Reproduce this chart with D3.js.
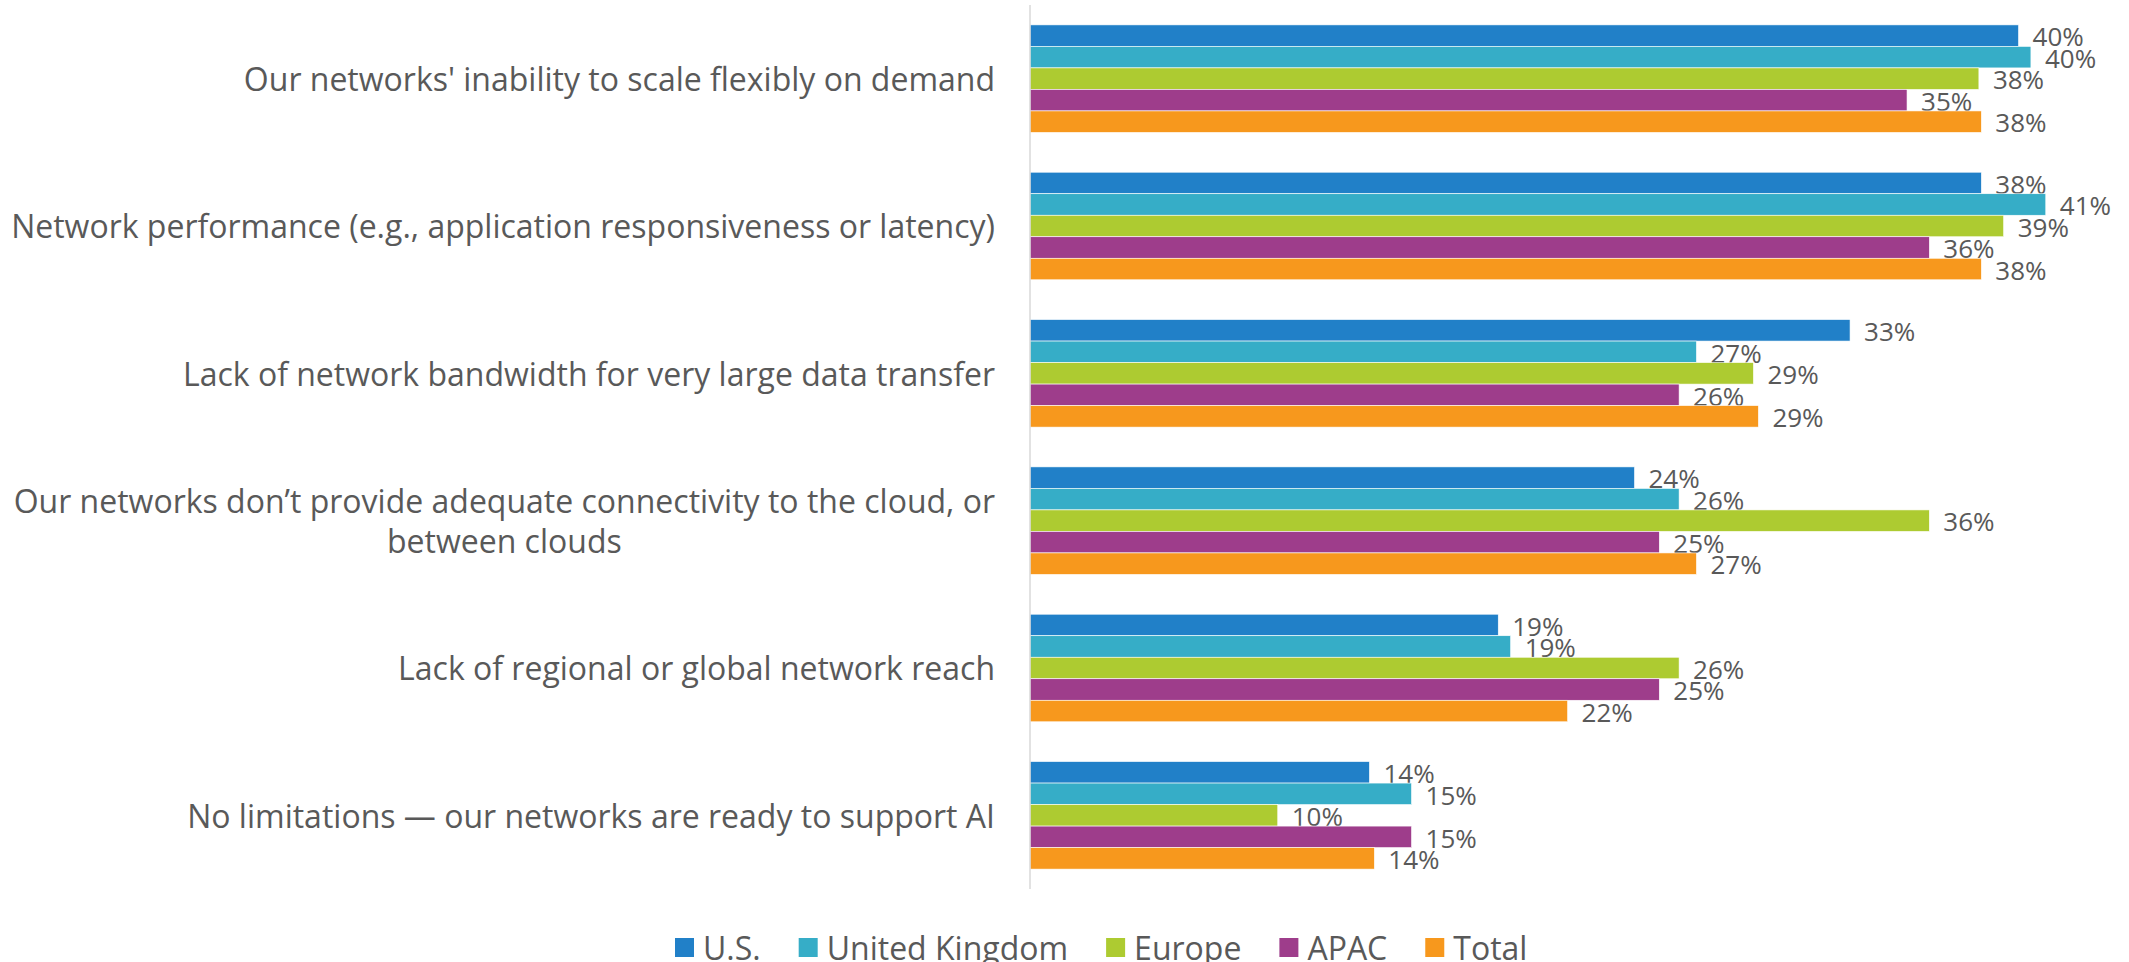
<!DOCTYPE html>
<html>
<head>
<meta charset="utf-8">
<script src="https://cdn.jsdelivr.net/npm/d3@7"></script>
<style>
  body { margin: 0; background: #fff; }
  text { font-family: "Open Sans", sans-serif; fill: #595959; }
</style>
</head>
<body>
<script>
// categories (top to bottom), each label split into its lines
var categorias = [
  ["Our networks' inability to scale flexibly on demand"],
  ["Network performance (e.g., application responsiveness or latency)"],
  ["Lack of network bandwidth for very large data transfer"],
  ["Our networks don\u2019t provide adequate connectivity to the cloud, or", "between clouds"],
  ["Lack of regional or global network reach"],
  ["No limitations \u2014 our networks are ready to support AI"]
];

var series = ["U.S.", "United Kingdom", "Europe", "APAC", "Total"];
var colores = ["#2180C8", "#36ADC7", "#ADCB31", "#9E3D8B", "#F7981D"];

// percent values per series, in category order
var us     = [39.9, 38.4, 33.1, 24.4, 18.9, 13.7];
var uk     = [40.4, 41.0, 26.9, 26.2, 19.4, 15.4];
var europe = [38.3, 39.3, 29.2, 36.3, 26.2, 10.0];
var apac   = [35.4, 36.3, 26.2, 25.4, 25.4, 15.4];
var total  = [38.4, 38.4, 29.4, 26.9, 21.7, 13.9];

var valores = [us, uk, europe, apac, total];

var width = 2129;
var height = 962;
var ejeX = 1030;

var svg = d3.select('body')
  .append('svg')
  .attr('width', width)
  .attr('height', height);

var x = d3.scaleLinear()
  .domain([0, 40])
  .range([ejeX, ejeX + 991]);

var y = d3.scaleBand()
  .domain(d3.range(categorias.length))
  .range([5, 889])
  .paddingInner(0.27)
  .paddingOuter(0.135);

var ySerie = d3.scaleBand()
  .domain(series)
  .range([0, y.bandwidth()]);

var grupos = svg.selectAll('g.grupo')
  .data(categorias)
  .enter()
  .append('g')
  .attr('class', 'grupo')
  .attr('transform', function (d, i) { return 'translate(0,' + y(i) + ')'; });

grupos.each(function (cat, i) {
  var g = d3.select(this);
  series.forEach(function (s, j) {
    var v = valores[j][i];
    g.append('rect')
      .attr('x', x(0))
      .attr('y', ySerie(s))
      .attr('width', x(v) - x(0))
      .attr('height', ySerie.bandwidth())
      .attr('fill', colores[j])
      .attr('stroke', '#fff')
      .attr('stroke-width', 0.6);
    g.append('text')
      .attr('x', x(v) + 14)
      .attr('y', ySerie(s) + ySerie.bandwidth())
      .style('font-size', '26px')
      .text(Math.round(v) + '%');
  });
});

// category labels, right aligned block, lines centered inside it
var derecha = 995;
var lineaAlto = 40;
grupos.each(function (cat, i) {
  var g = d3.select(this);
  var t = g.append('text')
    .style('font-size', '32px')
    .attr('text-anchor', 'middle');
  cat.forEach(function (linea, k) {
    t.append('tspan')
      .attr('y', y.bandwidth() / 2 + (k - (cat.length - 1) / 2) * lineaAlto)
      .attr('dominant-baseline', 'central')
      .text(linea);
  });
  var ancho = d3.max(t.selectAll('tspan').nodes(), function (n) { return n.getComputedTextLength(); });
  t.selectAll('tspan').attr('x', derecha - ancho / 2);
});

// vertical axis line
svg.append('line')
  .attr('x1', ejeX).attr('x2', ejeX)
  .attr('y1', 5).attr('y2', 889)
  .attr('stroke', '#d9d9d9')
  .attr('stroke-width', 1.5);

// legend
var leyenda = svg.append('g').attr('transform', 'translate(675,947)');
var px = 0;
series.forEach(function (s, j) {
  leyenda.append('rect')
    .attr('x', px).attr('y', -9)
    .attr('width', 19).attr('height', 19)
    .attr('fill', colores[j]);
  var t = leyenda.append('text')
    .attr('x', px + 28)
    .attr('y', 0)
    .attr('dominant-baseline', 'central')
    .style('font-size', '32px')
    .text(s);
  px += 28 + t.node().getComputedTextLength() + 38;
});
</script>
</body>
</html>
